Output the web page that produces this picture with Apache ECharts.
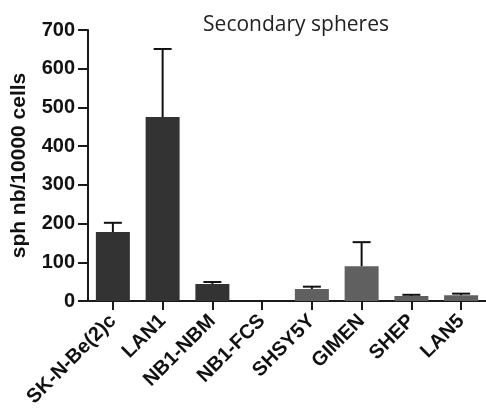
<!DOCTYPE html>
<html>
<head>
<meta charset="utf-8">
<script src="https://cdn.jsdelivr.net/npm/echarts@6/dist/echarts.min.js"></script>
<style>
  html, body { margin: 0; padding: 0; background: #fff; }
  #chart { width: 486px; height: 410px; }
</style>
</head>
<body>
<div id="chart"></div>
<script>
// Cell lines and secondary sphere counts (mean and SEM per 10000 cells)
const cellLines = ['SK-N-Be(2)c', 'LAN1', 'NB1-NBM', 'NB1-FCS', 'SHSY5Y', 'GIMEN', 'SHEP', 'LAN5'];
const sphereMeans = [178, 475, 44, 0, 31, 90, 13, 15];
const sphereErrors = [24, 176, 5, 0, 6, 62, 3, 4];
const barColors = ['#333333', '#333333', '#333333', '#333333', '#606060', '#606060', '#606060', '#606060'];
const yTicks = [0, 100, 200, 300, 400, 500, 600, 700];

const chart = echarts.init(document.getElementById('chart'), null, { renderer: 'canvas' });

const axisBlack = '#1a1a1a';
const boldFont = '"Liberation Sans", Arial, sans-serif';

chart.setOption({
  animation: false,
  backgroundColor: '#ffffff',
  title: {
    text: 'Secondary spheres',
    left: 291,
    textAlign: 'center',
    top: 10,
    textStyle: {
      fontFamily: '"Open Sans", sans-serif',
      fontWeight: 'normal',
      fontSize: 21,
      color: '#222222'
    }
  },
  grid: { left: 88, right: -6, top: 30, bottom: 109 },
  xAxis: {
    type: 'category',
    data: cellLines,
    axisLine: { lineStyle: { color: axisBlack, width: 2 } },
    axisTick: { show: true, alignWithLabel: true, length: 9, lineStyle: { color: axisBlack, width: 2 } },
    axisLabel: {
      rotate: 45,
      interval: 0,
      margin: 17,
      fontFamily: boldFont,
      fontWeight: 'bold',
      fontSize: 20,
      color: '#111111'
    }
  },
  yAxis: {
    type: 'value',
    min: yTicks[0],
    max: yTicks[yTicks.length - 1],
    interval: 100,
    name: 'sph nb/10000 cells',
    nameLocation: 'middle',
    nameGap: 58,
    nameTextStyle: {
      fontFamily: boldFont,
      fontWeight: 'bold',
      fontSize: 21,
      color: '#111111'
    },
    axisLine: { show: true, lineStyle: { color: axisBlack, width: 2 } },
    axisTick: { show: true, length: 10, lineStyle: { color: axisBlack, width: 2 } },
    splitLine: { show: false },
    axisLabel: {
      margin: 13,
      fontFamily: boldFont,
      fontWeight: 'bold',
      fontSize: 20,
      color: '#111111'
    }
  },
  series: [
    {
      type: 'bar',
      data: sphereMeans.map((v, i) => ({ value: v, itemStyle: { color: barColors[i] } })),
      barWidth: 34,
      z: 2
    },
    {
      // SEM error bars: upward stem with a horizontal cap
      type: 'custom',
      z: 3,
      data: sphereMeans.map((v, i) => [i, v, v + sphereErrors[i]]),
      renderItem: function (params, api) {
        if (api.value(2) === api.value(1)) return null;
        const base = api.coord([api.value(0), api.value(1)]);
        const top = api.coord([api.value(0), api.value(2)]);
        const capHalf = 9;
        const style = { stroke: '#111111', lineWidth: 2 };
        return {
          type: 'group',
          children: [
            { type: 'line', shape: { x1: base[0], y1: base[1], x2: top[0], y2: top[1] }, style: style },
            { type: 'line', shape: { x1: top[0] - capHalf, y1: top[1], x2: top[0] + capHalf, y2: top[1] }, style: style }
          ]
        };
      }
    }
  ]
});
</script>
</body>
</html>
